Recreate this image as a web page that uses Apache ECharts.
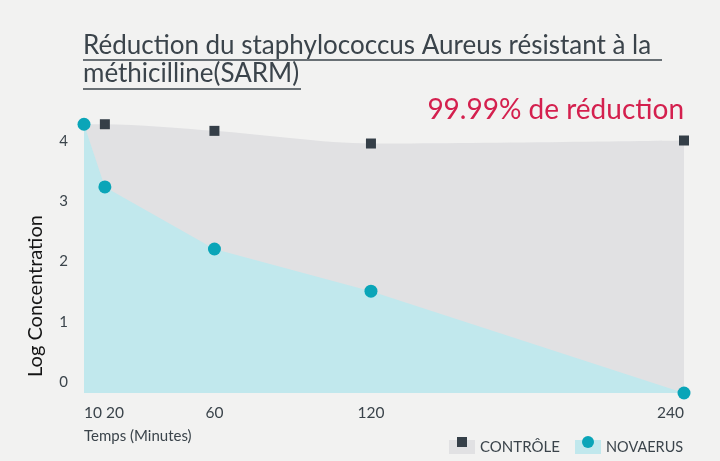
<!DOCTYPE html>
<html>
<head>
<meta charset="utf-8">
<script src="https://cdn.jsdelivr.net/npm/echarts@6/dist/echarts.min.js"></script>
<style>
  html, body { margin: 0; padding: 0; background: #f2f2f1; }
  #chart { width: 720px; height: 461px; }
</style>
</head>
<body>
<div id="chart"></div>
<script>
    // data
    var timeControle = [10, 18, 60, 120, 240];
    var valControle = [4.28, 4.28, 4.17, 3.96, 4.01];
    var timeNovaerus = [10, 18, 60, 120, 240];
    var valNovaerus = [4.28, 3.24, 2.21, 1.51, -0.18];
    var xTicks = [10, 20, 60, 120, 240];
    var yTicks = [0, 1, 2, 3, 4];

    var FONT = "Lato";
    var DARK = "#3b444b";

    function pairs(xs, ys) {
        var out = [];
        for (var i = 0; i < xs.length; i++) out.push([xs[i], ys[i]]);
        return out;
    }

    var controleData = pairs(timeControle, valControle);
    // first control point has no marker (hidden behind the Novaerus start)
    controleData[0] = { value: controleData[0], symbol: "none" };

    // "10" and "20" sit very close, so the first tick gets its own axis
    // (same scale) to stop the overlap check dropping one of them
    function xAxisFor(values, minAlign) {
        return {
            type: "value", min: 10, max: 240, position: "bottom", offset: 0,
            axisLine: { show: false }, axisTick: { show: false }, splitLine: { show: false },
            axisLabel: {
                customValues: values, margin: 12, color: DARK, fontFamily: FONT, fontSize: 15.5,
                alignMinLabel: minAlign, alignMaxLabel: "right",
                showMinLabel: true, showMaxLabel: true, hideOverlap: false,
                formatter: function (v) { return v === 20 ? "{s|20}" : String(v); },
                rich: { s: { padding: [0, 0, 0, 10], color: DARK, fontFamily: FONT, fontSize: 15.5 } }
            }
        };
    }

    var chart = echarts.init(document.getElementById("chart"));
    chart.setOption({
        backgroundColor: "#f2f2f1",
        animation: false,
        grid: { left: 84, right: 36, top: 117, bottom: 68 },
        xAxis: [xAxisFor(xTicks.slice(1), "center"), xAxisFor(xTicks.slice(0, 1), "left")],
        yAxis: {
            type: "value", min: -0.18, max: 4.4,
            axisLine: { show: false }, axisTick: { show: false }, splitLine: { show: false },
            axisLabel: { customValues: yTicks, margin: 16, color: DARK, fontFamily: FONT, fontSize: 15 }
        },
        series: [{
            name: "CONTRÔLE", type: "line", smooth: 0.3, clip: false,
            data: controleData,
            symbol: "rect", symbolSize: 10,
            itemStyle: { color: "#353f48" },
            lineStyle: { width: 0 },
            areaStyle: { color: "#e1e1e3", opacity: 1, origin: "start" },
            z: 2
        }, {
            name: "NOVAERUS", type: "line", clip: false,
            data: pairs(timeNovaerus, valNovaerus),
            symbol: "circle", symbolSize: 13,
            itemStyle: { color: "#0aa5b8" },
            lineStyle: { width: 0 },
            areaStyle: { color: "#c1e8ed", opacity: 1, origin: "start" },
            z: 3
        }],
        graphic: [
            { type: "text", left: 83, top: 33, style: { text: "Réduction du staphylococcus Aureus résistant à la ", fill: DARK, font: "26px " + FONT } },
            { type: "line", shape: { x1: 83, y1: 60, x2: 662, y2: 60 }, style: { stroke: DARK, lineWidth: 1.5 } },
            { type: "text", left: 83, top: 61, style: { text: "méthicilline(SARM)", fill: DARK, font: "26px " + FONT } },
            { type: "line", shape: { x1: 83, y1: 89, x2: 301, y2: 89 }, style: { stroke: DARK, lineWidth: 1.5 } },
            { type: "text", right: 36, top: 96, style: { text: "99.99% de réduction", fill: "#d4204e", font: "28px " + FONT } },
            { type: "text", x: 36, y: 296, rotation: Math.PI / 2, style: { text: "Log Concentration", fill: "#151515", font: "20px " + FONT, textAlign: "center", textVerticalAlign: "middle" } },
            { type: "text", x: 84, y: 436, style: { text: "Temps (Minutes)", fill: DARK, font: "15px " + FONT, textVerticalAlign: "middle" } },
            // legend
            { type: "rect", shape: { x: 449, y: 440, width: 26, height: 14 }, style: { fill: "#e1e1e3" } },
            { type: "rect", shape: { x: 457, y: 437, width: 10, height: 10 }, style: { fill: "#353f48" } },
            { type: "text", x: 480, y: 447, style: { text: "CONTRÔLE", fill: DARK, font: "15px " + FONT, textVerticalAlign: "middle" } },
            { type: "rect", shape: { x: 575, y: 440, width: 26, height: 14 }, style: { fill: "#c1e8ed" } },
            { type: "circle", shape: { cx: 588, cy: 442, r: 6 }, style: { fill: "#0aa5b8" } },
            { type: "text", x: 606, y: 447, style: { text: "NOVAERUS", fill: DARK, font: "14.5px " + FONT, textVerticalAlign: "middle" } }
        ]
    });
</script>
</body>
</html>
